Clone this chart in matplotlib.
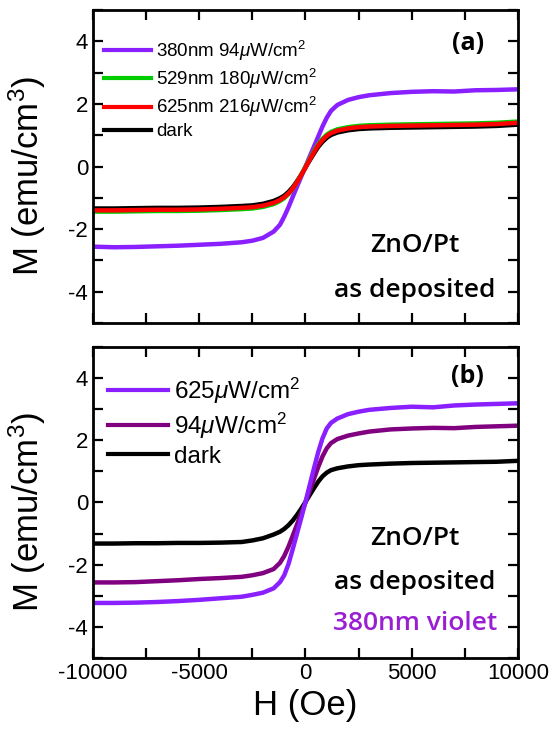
import matplotlib
matplotlib.use("Agg")
import matplotlib.pyplot as plt
from matplotlib.ticker import MultipleLocator, FixedLocator
from matplotlib.lines import Line2D

plt.rcParams['font.family'] = ['Liberation Sans', 'DejaVu Sans']
plt.rcParams['mathtext.fontset'] = 'custom'
plt.rcParams['mathtext.rm'] = 'Liberation Sans'
plt.rcParams['mathtext.it'] = 'Liberation Sans:italic'
plt.rcParams['axes.unicode_minus'] = False

# applied field (Oe)
H = [-10000, -9000, -8000, -7000, -6000, -5000, -4000, -3000, -2500, -2000,
     -1500, -1200, -1000, -800, -600, -400, -200, 0, 200, 400, 600, 800,
     1000, 1200, 1500, 2000, 2500, 3000, 4000, 5000, 6000, 7000, 8000, 9000, 10000]

# (a) wavelength dependence
m_380 = [-2.56, -2.58, -2.57, -2.55, -2.53, -2.50, -2.47, -2.42, -2.37, -2.28,
         -2.08, -1.86, -1.60, -1.30, -0.97, -0.64, -0.32, 0.00, 0.32, 0.64, 0.96, 1.28,
         1.56, 1.78, 1.97, 2.13, 2.22, 2.28, 2.35, 2.39, 2.41, 2.40, 2.44, 2.45, 2.47]
m_529 = [-1.44, -1.44, -1.43, -1.42, -1.42, -1.41, -1.39, -1.36, -1.34, -1.29,
         -1.20, -1.10, -1.01, -0.88, -0.71, -0.50, -0.26, -0.01, 0.25, 0.50, 0.72, 0.89,
         1.02, 1.11, 1.19, 1.26, 1.30, 1.32, 1.34, 1.35, 1.36, 1.37, 1.38, 1.40, 1.44]
m_625 = [-1.40, -1.40, -1.39, -1.38, -1.38, -1.37, -1.35, -1.32, -1.30, -1.25,
         -1.16, -1.07, -0.98, -0.86, -0.70, -0.50, -0.27, -0.03, 0.22, 0.46, 0.68, 0.85,
         0.98, 1.07, 1.15, 1.22, 1.26, 1.28, 1.30, 1.31, 1.32, 1.33, 1.34, 1.36, 1.40]
m_dark_a = [-1.34, -1.34, -1.33, -1.32, -1.32, -1.31, -1.29, -1.26, -1.24, -1.19,
            -1.10, -1.01, -0.93, -0.81, -0.66, -0.47, -0.26, -0.03, 0.20, 0.42, 0.63, 0.79,
            0.92, 1.01, 1.09, 1.16, 1.20, 1.22, 1.24, 1.25, 1.26, 1.27, 1.28, 1.30, 1.34]

# (b) intensity dependence at 380 nm
m_625uw = [-3.23, -3.23, -3.22, -3.20, -3.17, -3.13, -3.08, -3.03, -2.97, -2.90,
           -2.76, -2.56, -2.34, -1.98, -1.50, -1.00, -0.50, 0.02, 0.56, 1.10, 1.62, 2.06,
           2.38, 2.56, 2.70, 2.84, 2.92, 2.98, 3.04, 3.08, 3.06, 3.12, 3.15, 3.17, 3.19]
m_94uw = [-2.57, -2.57, -2.56, -2.53, -2.50, -2.46, -2.43, -2.39, -2.34, -2.27,
          -2.14, -1.94, -1.72, -1.42, -1.07, -0.71, -0.35, 0.00, 0.38, 0.76, 1.14, 1.48,
          1.74, 1.91, 2.04, 2.15, 2.22, 2.28, 2.35, 2.38, 2.40, 2.39, 2.43, 2.45, 2.47]
m_dark_b = [-1.32, -1.32, -1.31, -1.31, -1.30, -1.30, -1.29, -1.27, -1.22, -1.15,
            -1.03, -0.94, -0.85, -0.73, -0.58, -0.40, -0.20, 0.02, 0.24, 0.46, 0.67, 0.84,
            0.96, 1.04, 1.10, 1.16, 1.20, 1.22, 1.25, 1.27, 1.28, 1.29, 1.30, 1.31, 1.34]

labels_a = ['380nm 94$\\mu$W/cm$^2$', '529nm 180$\\mu$W/cm$^2$',
            '625nm 216$\\mu$W/cm$^2$', 'dark']
labels_b = ['625$\\mu$W/cm$^2$', '94$\\mu$W/cm$^2$', 'dark']

VIOLET = '#8a1fff'
PURPLE = '#800080'
GREEN = '#00cc00'

fig = plt.figure(figsize=(5.54, 7.29), dpi=100)
ax1 = fig.add_axes([0.1679, 0.557, 0.767, 0.429])
ax2 = fig.add_axes([0.1679, 0.0974, 0.767, 0.4266])

lw = 3.2
ax1.plot(H, m_380, color=VIOLET, lw=lw)
ax1.plot(H, m_dark_a, color='black', lw=lw)
ax1.plot(H, m_529, color=GREEN, lw=lw)
ax1.plot(H, m_625, color='red', lw=lw)

ax2.plot(H, m_dark_b, color='black', lw=lw)
ax2.plot(H, m_94uw, color=PURPLE, lw=lw)
ax2.plot(H, m_625uw, color=VIOLET, lw=lw)

for ax in (ax1, ax2):
    ax.set_xlim(-10000, 10000)
    ax.set_ylim(-5, 5)
    ax.xaxis.set_major_locator(FixedLocator([-10000, -5000, 0, 5000, 10000]))
    ax.xaxis.set_minor_locator(MultipleLocator(2500))
    ax.yaxis.set_major_locator(FixedLocator([-4, -2, 0, 2, 4]))
    ax.yaxis.set_minor_locator(MultipleLocator(1))
    ax.tick_params(which='both', direction='in', top=True, right=True,
                   length=7, width=1.6, labelsize=16)
    for s in ax.spines.values():
        s.set_linewidth(2)
    ax.set_ylabel('M (emu/cm$^3$)', fontsize=25)
    ax.yaxis.set_label_coords(-0.105, 0.47)

ax1.tick_params(labelbottom=False)
ax2.set_xlabel('H (Oe)', fontsize=25, labelpad=4)

def handles(colors):
    return [Line2D([], [], color=c, lw=3) for c in colors]

ax1.legend(handles([VIOLET, GREEN, 'red', 'black']), labels_a,
           loc='upper left', bbox_to_anchor=(0.0, 0.945), frameon=False,
           fontsize=13.5, handlelength=2.5, handletextpad=0.25, labelspacing=0.22,
           borderaxespad=0.2)
ax2.legend(handles([VIOLET, PURPLE, 'black']), labels_b,
           loc='upper left', bbox_to_anchor=(0.0, 0.955), frameon=False,
           fontsize=17.5, handlelength=2.5, handletextpad=0.22, labelspacing=0.2,
           borderaxespad=0.2)

note = dict(family=['Open Sans', 'DejaVu Sans'], fontsize=19, fontweight='semibold',
            ha='center', va='baseline')
tag = dict(family=['Open Sans', 'DejaVu Sans'], fontsize=18, fontweight='bold',
           ha='center', va='baseline')
ax1.text(0.882, 0.872, '(a)', transform=ax1.transAxes, **tag)
ax1.text(0.758, 0.227, 'ZnO/Pt', transform=ax1.transAxes, **note)
ax1.text(0.758, 0.083, 'as deposited', transform=ax1.transAxes, **note)

ax2.text(0.882, 0.884, '(b)', transform=ax2.transAxes, **tag)
ax2.text(0.758, 0.363, 'ZnO/Pt', transform=ax2.transAxes, **note)
ax2.text(0.758, 0.222, 'as deposited', transform=ax2.transAxes, **note)
ax2.text(0.758, 0.090, '380nm violet', transform=ax2.transAxes, color='#9a1ed2', **note)

fig.savefig('out.png', dpi=100)
